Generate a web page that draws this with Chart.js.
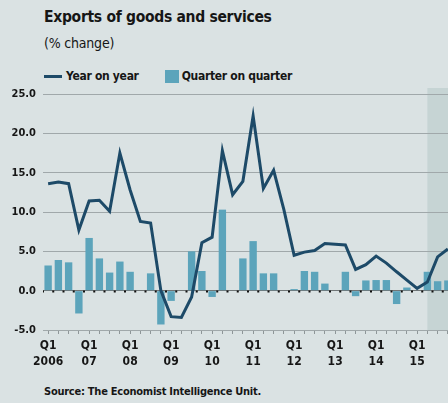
<!DOCTYPE html>
<html>
<head>
<meta charset="utf-8">
<script src="https://cdn.jsdelivr.net/npm/chart.js@4"></script>
<style>
  html, body { margin: 0; padding: 0; }
  body {
    width: 448px; height: 403px; overflow: hidden; position: relative;
    background: #dae2e3; color: #161616;
    font-family: "Liberation Sans Narrow", "DejaVu Sans Condensed", "Roboto", sans-serif;
  }
  .txt { position: absolute; left: 44px; white-space: nowrap; }
  #title { top: 8px; font-size: 15.5px; font-weight: bold; letter-spacing: -0.3px; }
  #sub { top: 35px; font-size: 14px; letter-spacing: -0.2px; }
  #legend { top: 69px; font-size: 12px; font-weight: bold; letter-spacing: -0.3px; display: flex; align-items: center; }
  #legend .item { display: flex; align-items: center; margin-right: 26px; }
  #legend .line { width: 18px; height: 3px; margin-right: 4px; }
  #legend .box { width: 14px; height: 13px; margin-right: 3px; }
  #source { top: 385px; font-size: 11px; font-weight: bold; letter-spacing: -0.25px; }
  #wrap { position: absolute; left: 0; top: 0; width: 453px; height: 403px; }
</style>
</head>
<body>
<div class="txt" id="title">Exports of goods and services</div>
<div class="txt" id="sub">(% change)</div>
<div class="txt" id="legend"></div>
<div class="txt" id="source">Source: The Economist Intelligence Unit.</div>
<div id="wrap"><canvas id="c" width="453" height="403"></canvas></div>
<script>
// quarterly series, Q1 2006 onwards
const years = ['2006', '07', '08', '09', '10', '11', '12', '13', '14', '15'];
const quarters = [];
for (let i = 0; i < 40; i++) quarters.push(i % 4 === 0 ? ['Q1', years[i / 4]] : '');

const yearOnYear = [13.6, 13.8, 13.6, 7.7, 11.4, 11.5, 10.1, 17.5, 12.8, 8.8,
  8.6, 0.0, -3.3, -3.4, -0.8, 6.1, 6.8, 17.8, 12.2, 13.9,
  22.2, 13.0, 15.3, 10.3, 4.5, 4.9, 5.1, 6.0, 5.9, 5.8,
  2.7, 3.3, 4.4, 3.5, 2.4, 1.35, 0.3, 1.1, 4.3, 5.3];

const quarterOnQuarter = [3.2, 3.9, 3.6, -2.9, 6.7, 4.1, 2.3, 3.7, 2.4, 0,
  2.2, -4.3, -1.3, 0, 5.0, 2.5, -0.8, 10.3, 0, 4.1,
  6.3, 2.2, 2.2, 0, 0.2, 2.5, 2.4, 0.9, 0, 2.4,
  -0.7, 1.3, 1.35, 1.35, -1.7, 0.4, 0, 2.4, 1.2, 1.3];

const yTicks = [-5, 0, 5, 10, 15, 20, 25];
const forecastStart = 37; // first forecast quarter

const LINE = '#1d4a68';
const BAR = '#5ca4bb';

// forecast band, drawn under the gridlines
const forecastBand = {
  id: 'forecastBand',
  beforeDraw(chart) {
    const { ctx, chartArea } = chart;
    const x0 = chart.scales.x.getPixelForValue(forecastStart);
    ctx.save();
    ctx.fillStyle = '#c6d4d4';
    ctx.fillRect(x0, chartArea.top - 6, chartArea.right - x0, chartArea.bottom - chartArea.top + 6);
    ctx.restore();
  }
};

// dotted zero line
const zeroLine = {
  id: 'zeroLine',
  beforeDatasetsDraw(chart) {
    const { ctx, chartArea } = chart;
    const y = Math.round(chart.scales.y.getPixelForValue(0)) + 0.5;
    const step = chart.scales.x.width / quarters.length;
    ctx.save();
    ctx.strokeStyle = '#111';
    ctx.lineWidth = 2;
    ctx.setLineDash([2, step - 2]);
    ctx.lineDashOffset = 1;
    ctx.beginPath();
    ctx.moveTo(chartArea.left, y);
    ctx.lineTo(chartArea.right, y);
    ctx.stroke();
    ctx.restore();
  }
};

const font = "'Liberation Sans Narrow', 'DejaVu Sans Condensed', Roboto, sans-serif";

const chart = new Chart(document.getElementById('c'), {
  type: 'bar',
  data: {
    labels: quarters,
    datasets: [
      {
        type: 'line',
        label: 'Year on year',
        data: yearOnYear,
        borderColor: LINE,
        backgroundColor: LINE,
        borderWidth: 3,
        pointRadius: 0,
        tension: 0,
        borderJoinStyle: 'miter',
      },
      {
        type: 'bar',
        label: 'Quarter on quarter',
        data: quarterOnQuarter,
        backgroundColor: BAR,
        barPercentage: 0.72,
        categoryPercentage: 1,
      },
    ],
  },
  options: {
    responsive: false,
    animation: false,
    layout: { padding: { top: 94, left: 0, right: 0, bottom: 0 } },
    plugins: { legend: { display: false }, tooltip: { enabled: false } },
    scales: {
      x: {
        offset: true,
        grid: { offset: false, drawOnChartArea: false, tickLength: 4, tickColor: '#8e9698', tickWidth: 1 },
        border: { display: false },
        ticks: {
          autoSkip: false, maxRotation: 0, padding: 4, color: '#161616',
          font: { family: font, size: 12, weight: 'bold', lineHeight: 1.3 },
        },
        afterFit(s) { s.height = 73; },
      },
      y: {
        min: -5, max: 25,
        afterBuildTicks(s) { s.ticks = yTicks.map((v) => ({ value: v })); },
        grid: {
          drawTicks: false,
          color: (c) => (c.tick && c.tick.value === 0 ? '#707677' : '#a0a8aa'),
          lineWidth: 1,
        },
        border: { display: false },
        ticks: {
          padding: 7, color: '#161616',
          font: { family: font, size: 11, weight: 'bold' },
          callback: (v) => v.toFixed(1),
        },
        afterFit(s) { s.width = 43; },
      },
    },
  },
  plugins: [forecastBand, zeroLine],
});

// legend built from the datasets
document.getElementById('legend').innerHTML = chart.data.datasets.map((d) =>
  `<span class="item"><span class="${d.type === 'line' ? 'line' : 'box'}" style="background:${d.type === 'line' ? d.borderColor : d.backgroundColor}"></span>${d.label}</span>`
).join('');
</script>
</body>
</html>
